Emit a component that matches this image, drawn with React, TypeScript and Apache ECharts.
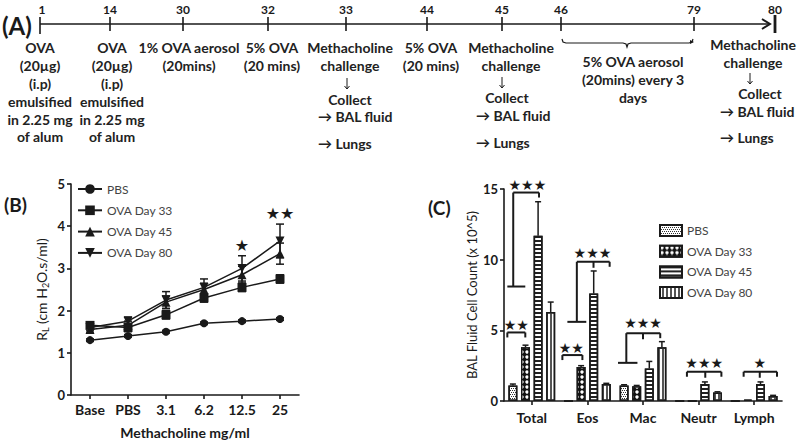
import React, { useEffect, useRef } from 'react';
import * as echarts from 'echarts';

const FONT = 'Lato, "Open Sans", sans-serif';
const STAR_FONT = '"DejaVu Sans", sans-serif';
const INK = '#1a1a1a';

// ---------- Panel B data ----------
const doseCategories = ['Base', 'PBS', '3.1', '6.2', '12.5', '25'];
const pbsRL = [1.3, 1.4, 1.5, 1.7, 1.75, 1.8];
const pbsRLErr = [0.03, 0.03, 0.03, 0.03, 0.03, 0.03];
const ova33RL = [1.65, 1.6, 1.9, 2.3, 2.55, 2.75];
const ova33RLErr = [0.08, 0.1, 0.1, 0.1, 0.1, 0.1];
const ova45RL = [1.55, 1.65, 2.2, 2.5, 2.85, 3.35];
const ova45RLErr = [0.08, 0.1, 0.15, 0.15, 0.2, 0.25];
const ova80RL = [1.6, 1.75, 2.25, 2.55, 3.0, 3.65];
const ova80RLErr = [0.08, 0.1, 0.2, 0.2, 0.3, 0.4];
const rlStarCats = [4, 5];
const rlStarValues = [3.55, 4.3];
const rlStarLabels = ['★', '★★'];

// ---------- Panel C data ----------
const cellCategories = ['Total', 'Eos', 'Mac', 'Neutr', 'Lymph'];
const pbsCells = [1.1, 0, 1.1, 0, 0];
const pbsCellsErr = [0.1, 0, 0.05, 0, 0];
const ova33Cells = [3.8, 2.4, 1.05, 0, 0.1];
const ova33CellsErr = [0.15, 0.1, 0.05, 0, 0.02];
const ova45Cells = [11.7, 7.6, 2.3, 1.2, 1.2];
const ova45CellsErr = [2.4, 1.6, 0.5, 0.15, 0.15];
const ova80Cells = [6.3, 1.2, 3.8, 0.6, 0.35];
const ova80CellsErr = [0.7, 0.05, 0.4, 0.05, 0.05];

// significance brackets (category index, bracket level, stars)
const bracketCats = [0, 0, 1, 1, 2, 3, 4];
const bracketLevels = [14.75, 4.85, 3.25, 9.85, 4.8, 2.07, 2.07];
const bracketStemLevels = [8.1, null, null, 5.6, 2.7, null, null];
const bracketStarLevels = [15.3, 5.4, 3.75, 10.5, 5.5, 2.7, 2.7];
const bracketStars = ['★★★', '★★', '★★', '★★★', '★★★', '★★★', '★'];
// horizontal geometry in fractions of a category band (layout only)
const bracketGeom = [
  { l: -0.334, r: 0.13, mid: null, capL: -0.44, capR: -0.117, sx: -0.08 },
  { l: -0.44, r: -0.117, mid: null, capL: 0, capR: 0, sx: -0.28 },
  { l: -0.45, r: -0.09, mid: null, capL: 0, capR: 0, sx: -0.29 },
  { l: -0.19, r: 0.4, mid: 0.11, capL: -0.36, capR: -0.02, sx: 0.09 },
  { l: -0.3, r: 0.31, mid: 0, capL: -0.45, capR: -0.1, sx: 0 },
  { l: -0.21, r: 0.41, mid: 0.12, capL: 0, capR: 0, sx: 0.1 },
  { l: -0.19, r: 0.41, mid: 0.1, capL: 0, capR: 0, sx: 0.1 },
];

// ---------- Panel A timeline ----------
const timelineDays = ['1', '14', '30', '32', '33', '44', '45', '46', '79', '80'];
const timelineX = [40, 110, 183, 268, 346, 427, 502, 561, 694, 775];

const seriesNames = ['PBS', 'OVA Day 33', 'OVA Day 45', 'OVA Day 80'];
const BAR_W = 9;
const BAR_OFFSETS = [-18.9, -6.3, 6.3, 18.9];

const lineStyle = { stroke: INK, lineWidth: 1.5 };

function errRenderB(params: any, api: any) {
  const x = api.value(0);
  const lo = api.coord([x, api.value(1)]);
  const hi = api.coord([x, api.value(2)]);
  const w = 4;
  return {
    type: 'group',
    children: [
      { type: 'line', shape: { x1: lo[0], y1: lo[1], x2: hi[0], y2: hi[1] }, style: lineStyle },
      { type: 'line', shape: { x1: hi[0] - w, y1: hi[1], x2: hi[0] + w, y2: hi[1] }, style: lineStyle },
      { type: 'line', shape: { x1: lo[0] - w, y1: lo[1], x2: lo[0] + w, y2: lo[1] }, style: lineStyle },
    ],
  };
}

function makeErrRenderC(k: number) {
  return (params: any, api: any) => {
    const i = api.value(0);
    const base = api.coord([i, api.value(1)]);
    const top = api.coord([i, api.value(2)]);
    const x = base[0] + BAR_OFFSETS[k];
    return {
      type: 'group',
      children: [
        { type: 'line', shape: { x1: x, y1: base[1], x2: x, y2: top[1] }, style: lineStyle },
        { type: 'line', shape: { x1: x - 3, y1: top[1], x2: x + 3, y2: top[1] }, style: lineStyle },
      ],
    };
  };
}

function bracketRender(params: any, api: any) {
  const idx = params.dataIndex;
  const g = bracketGeom[idx];
  const cat = api.value(0);
  const band = api.size([1, 0])[0];
  const p = api.coord([cat, api.value(1)]);
  const cx = p[0];
  const y = p[1];
  const xl = cx + g.l * band;
  const xr = cx + g.r * band;
  const st = { stroke: INK, lineWidth: 2 };
  const children: any[] = [
    { type: 'line', shape: { x1: xl, y1: y, x2: xr, y2: y }, style: st },
    { type: 'line', shape: { x1: xr, y1: y, x2: xr, y2: y + 5 }, style: st },
  ];
  const stem = bracketStemLevels[idx];
  if (stem != null) {
    const sy = api.coord([cat, stem])[1];
    children.push({ type: 'line', shape: { x1: xl, y1: y, x2: xl, y2: sy }, style: st });
    children.push({ type: 'line', shape: { x1: cx + g.capL * band, y1: sy, x2: cx + g.capR * band, y2: sy }, style: st });
  } else {
    children.push({ type: 'line', shape: { x1: xl, y1: y, x2: xl, y2: y + 5 }, style: st });
  }
  if (g.mid != null) {
    const xm = cx + g.mid * band;
    children.push({ type: 'line', shape: { x1: xm, y1: y, x2: xm, y2: y + 6 }, style: st });
  }
  const sy2 = api.coord([cat, bracketStarLevels[idx]])[1];
  children.push({
    type: 'text',
    x: cx + g.sx * band,
    y: sy2,
    style: {
      text: bracketStars[idx],
      fill: INK,
      fontSize: 14,
      fontFamily: STAR_FONT,
      align: 'center',
      verticalAlign: 'middle',
    },
  });
  return { type: 'group', children };
}

function starRenderB(params: any, api: any) {
  const p = api.coord([api.value(0), api.value(1)]);
  return {
    type: 'text',
    x: p[0],
    y: p[1],
    style: {
      text: rlStarLabels[params.dataIndex],
      fill: INK,
      fontSize: 16,
      fontFamily: STAR_FONT,
      align: 'center',
      verticalAlign: 'middle',
    },
  };
}

function buildTimeline() {
  const els: any[] = [];
  const txt = (x: number, y: number, lines: string[], align = 'center', extra: any = {}) => {
    const lh = 17.8;
    els.push({
      type: 'text',
      x,
      y: y - lh / 2,
      style: {
        text: lines.join('\n'),
        fill: '#222',
        fontSize: 14,
        fontWeight: 'bold',
        fontFamily: FONT,
        align,
        verticalAlign: 'top',
        lineHeight: lh,
        ...extra,
      },
    });
  };
  els.push({
    type: 'text',
    x: 2,
    y: 25,
    style: { text: '(A)', fill: INK, fontSize: 24, fontWeight: 'bold', fontFamily: FONT, align: 'left', verticalAlign: 'middle' },
  });
  els.push({ type: 'line', shape: { x1: 40, y1: 24, x2: 770, y2: 24 }, style: { stroke: INK, lineWidth: 1.6 } });
  els.push({ type: 'polyline', shape: { points: [[762, 19], [770, 24], [762, 29]] }, style: { stroke: INK, lineWidth: 2, fill: null } });
  els.push({ type: 'line', shape: { x1: 775, y1: 15, x2: 775, y2: 33 }, style: { stroke: INK, lineWidth: 2.8 } });
  timelineX.forEach((x, i) => {
    if (i < timelineX.length - 1) {
      els.push({ type: 'line', shape: { x1: x, y1: 17, x2: x, y2: i === 0 ? 34 : 31 }, style: { stroke: INK, lineWidth: 1.6 } });
    }
    els.push({
      type: 'text',
      x: x + (i === 0 ? 2 : 0),
      y: 9,
      style: { text: timelineDays[i], fill: INK, fontSize: 12, fontWeight: 'bold', fontFamily: FONT, align: 'center', verticalAlign: 'middle' },
    });
  });
  const alum = ['OVA', '(20µg)', '(i.p)', 'emulsified', 'in 2.25 mg', 'of alum'];
  txt(40, 48, alum);
  txt(112, 48, alum);
  txt(189, 48, ['1% OVA aerosol', '(20mins)']);
  txt(272, 48, ['5% OVA', '(20 mins)']);
  txt(431, 48, ['5% OVA', '(20 mins)']);
  const challenge = (cx: number, y0: number, ax: number, ay: number, cy: number, ccx: number, lx: number, by: number, ly: number) => {
    txt(cx, y0, ['Methacholine', 'challenge']);
    els.push({ type: 'line', shape: { x1: ax, y1: ay - 6, x2: ax, y2: ay + 5 }, style: { stroke: INK, lineWidth: 1 } });
    els.push({ type: 'polyline', shape: { points: [[ax - 2.5, ay + 2], [ax, ay + 5], [ax + 2.5, ay + 2]] }, style: { stroke: INK, lineWidth: 1, fill: null } });
    txt(ccx, cy, ['Collect']);
    txt(lx, by, ['→ BAL fluid'], 'left');
    txt(lx, ly, ['→ Lungs'], 'left');
  };
  challenge(350, 48, 347, 84, 100, 350, 318, 117, 144);
  challenge(511, 48, 502, 83, 98, 507, 476, 116, 143);
  challenge(753, 45, 750, 79, 94, 760, 720, 112, 138);
  els.push({
    type: 'polyline',
    shape: {
      points: [[562, 39], [563, 42], [566, 43], [623, 43], [626, 44], [627, 47], [628, 44], [631, 43], [689, 43], [692, 42], [693, 39]],
    },
    style: { stroke: INK, lineWidth: 1.2, fill: null },
  });
  els.push({ type: 'polygon', shape: { points: [[690, 40], [694, 42], [690, 44]] }, style: { fill: INK } });
  txt(633, 62, ['5% OVA aerosol', '(20mins) every 3', 'days']);
  els.push({
    type: 'text',
    x: 4,
    y: 204,
    style: { text: '(B)', fill: INK, fontSize: 19, fontWeight: 'bold', fontFamily: FONT, align: 'left', verticalAlign: 'middle' },
  });
  els.push({
    type: 'text',
    x: 428,
    y: 207,
    style: { text: '(C)', fill: INK, fontSize: 19, fontWeight: 'bold', fontFamily: FONT, align: 'left', verticalAlign: 'middle' },
  });
  return els;
}

const axisLineCommon = { show: true, lineStyle: { color: INK, width: 1.6 } };
const axisTickCommon = { show: true, length: 4, lineStyle: { color: INK, width: 1.6 } };

const lineSymbols = ['circle', 'rect', 'triangle', 'triangle'];
const lineRotate = [0, 0, 0, 180];
const rlValues = [pbsRL, ova33RL, ova45RL, ova80RL];
const rlErrs = [pbsRLErr, ova33RLErr, ova45RLErr, ova80RLErr];
const cellValues = [pbsCells, ova33Cells, ova45Cells, ova80Cells];
const cellErrs = [pbsCellsErr, ova33CellsErr, ova45CellsErr, ova80CellsErr];

const barFill = ['#ffffff', '#111111', '#ffffff', '#ffffff'];
const barDecals: any[] = [
  { symbol: 'rect', symbolSize: 1, color: '#333', dashArrayX: [[1, 1], [0, 1, 1, 0]], dashArrayY: [1, 0.6], rotation: 0 },
  { symbol: 'circle', symbolSize: 0.85, color: '#ffffff', dashArrayX: [4, 0.8], dashArrayY: [3.4, 0.6], rotation: 0 },
  { symbol: 'rect', symbolSize: 1, color: '#222', dashArrayX: [1, 0], dashArrayY: [1.3, 1.7], rotation: 0 },
  { symbol: 'rect', symbolSize: 1, color: '#555', dashArrayX: [1, 0], dashArrayY: [1.2, 1.8], rotation: Math.PI / 2 },
];

function buildOption() {
  const series: any[] = [];
  seriesNames.forEach((name, k) => {
    series.push({
      type: 'line',
      name,
      xAxisIndex: 0,
      yAxisIndex: 0,
      data: rlValues[k],
      symbol: lineSymbols[k],
      symbolRotate: lineRotate[k],
      symbolSize: k === 0 ? 8 : 9,
      lineStyle: { color: INK, width: 1.5 },
      itemStyle: { color: INK },
      z: 3,
    });
  });
  seriesNames.forEach((name, k) => {
    series.push({
      type: 'custom',
      name: 'errB' + k,
      xAxisIndex: 0,
      yAxisIndex: 0,
      renderItem: errRenderB,
      encode: { x: 0, y: [1, 2] },
      data: rlValues[k].map((v, i) => [i, v - rlErrs[k][i], v + rlErrs[k][i]]),
      z: 4,
    });
  });
  series.push({
    type: 'custom',
    name: 'starsB',
    xAxisIndex: 0,
    yAxisIndex: 0,
    renderItem: starRenderB,
    encode: { x: 0, y: 1 },
    data: rlStarCats.map((c, i) => [c, rlStarValues[i]]),
    z: 5,
  });
  seriesNames.forEach((name, k) => {
    series.push({
      type: 'bar',
      name: 'C:' + name,
      xAxisIndex: 1,
      yAxisIndex: 1,
      data: cellValues[k],
      barWidth: BAR_W,
      barGap: '40%',
      itemStyle: { color: barFill[k], borderColor: INK, borderWidth: 1.5, decal: barDecals[k] },
      z: 2,
    });
  });
  seriesNames.forEach((name, k) => {
    series.push({
      type: 'custom',
      name: 'errC' + k,
      xAxisIndex: 1,
      yAxisIndex: 1,
      renderItem: makeErrRenderC(k),
      encode: { x: 0, y: [1, 2] },
      data: cellValues[k]
        .map((v, i) => [i, v, v + cellErrs[k][i]])
        .filter((d, i) => cellErrs[k][i] > 0.03),
      z: 4,
    });
  });
  series.push({
    type: 'custom',
    name: 'bracketsC',
    xAxisIndex: 1,
    yAxisIndex: 1,
    renderItem: bracketRender,
    encode: { x: 0, y: 1 },
    data: bracketCats.map((c, i) => [c, bracketLevels[i]]),
    z: 5,
  });

  return {
    animation: false,
    backgroundColor: '#ffffff',
    textStyle: { fontFamily: FONT },
    grid: [
      { left: 71, top: 184, width: 228, height: 211, containLabel: false, outerBoundsMode: 'none' },
      { left: 504, top: 189, width: 278, height: 212, containLabel: false, outerBoundsMode: 'none' },
    ],
    legend: [
      {
        data: seriesNames,
        orient: 'vertical',
        left: 77,
        top: 183,
        itemWidth: 24,
        itemHeight: 12,
        itemGap: 9.3,
        padding: 0,
        textStyle: { fontSize: 12, color: '#444', fontFamily: FONT },
        selectedMode: false,
      },
      {
        data: seriesNames.map((n) => 'C:' + n),
        orient: 'vertical',
        left: 659,
        top: 224,
        itemWidth: 22,
        itemHeight: 11,
        itemGap: 7.7,
        padding: 0,
        icon: 'rect',
        formatter: (n: string) => n.slice(2),
        textStyle: { fontSize: 12, color: '#444', fontFamily: FONT },
        selectedMode: false,
      },
    ],
    xAxis: [
      {
        type: 'category',
        gridIndex: 0,
        data: doseCategories,
        boundaryGap: true,
        axisLine: axisLineCommon,
        axisTick: { ...axisTickCommon, alignWithLabel: true },
        axisLabel: { color: INK, fontSize: 14, fontWeight: 'bold', margin: 7, fontFamily: FONT, interval: 0 },
        name: 'Methacholine mg/ml',
        nameLocation: 'middle',
        nameGap: 30,
        nameTextStyle: { color: INK, fontSize: 14, fontWeight: 'bold', fontFamily: FONT },
      },
      {
        type: 'category',
        gridIndex: 1,
        data: cellCategories,
        boundaryGap: true,
        axisLine: axisLineCommon,
        axisTick: { ...axisTickCommon, alignWithLabel: true },
        axisLabel: { color: INK, fontSize: 14, fontWeight: 'bold', margin: 9, fontFamily: FONT, interval: 0 },
      },
    ],
    yAxis: [
      {
        type: 'value',
        gridIndex: 0,
        min: 0,
        max: 5,
        interval: 1,
        splitLine: { show: false },
        axisLine: axisLineCommon,
        axisTick: axisTickCommon,
        axisLabel: { color: INK, fontSize: 13, fontWeight: 'bold', margin: 6, fontFamily: FONT },
        name: '{a|R}{s|L}{a| (cm H}{s|2}{a|O.s/ml)}',
        nameLocation: 'middle',
        nameGap: 21,
        nameRotate: 90,
        nameTextStyle: {
          color: INK,
          fontFamily: FONT,
          rich: {
            a: { fontSize: 14, color: INK, fontFamily: FONT, lineHeight: 18, verticalAlign: 'middle' },
            s: { fontSize: 9, color: INK, fontFamily: FONT, lineHeight: 18, verticalAlign: 'bottom', padding: [9, 0, 0, 0] },
          },
        },
      },
      {
        type: 'value',
        gridIndex: 1,
        min: 0,
        max: 15,
        interval: 5,
        splitLine: { show: false },
        axisLine: axisLineCommon,
        axisTick: axisTickCommon,
        axisLabel: { color: INK, fontSize: 13, fontWeight: 'bold', margin: 6, fontFamily: FONT },
        name: 'BAL Fluid Cell Count (x 10^5)',
        nameLocation: 'middle',
        nameGap: 26,
        nameRotate: 90,
        nameTextStyle: { color: INK, fontSize: 13, fontFamily: FONT },
      },
    ],
    graphic: { elements: buildTimeline() },
    series,
  };
}

export default function App() {
  const ref = useRef<HTMLDivElement>(null);
  useEffect(() => {
    if (!ref.current) return;
    const chart = echarts.init(ref.current, null, { renderer: 'svg' });
    chart.setOption(buildOption() as any);
    return () => chart.dispose();
  }, []);
  return (
    <div
      ref={ref}
      style={{ position: 'absolute', left: 0, top: 0, width: 800, height: 444, background: '#fff' }}
    />
  );
}
